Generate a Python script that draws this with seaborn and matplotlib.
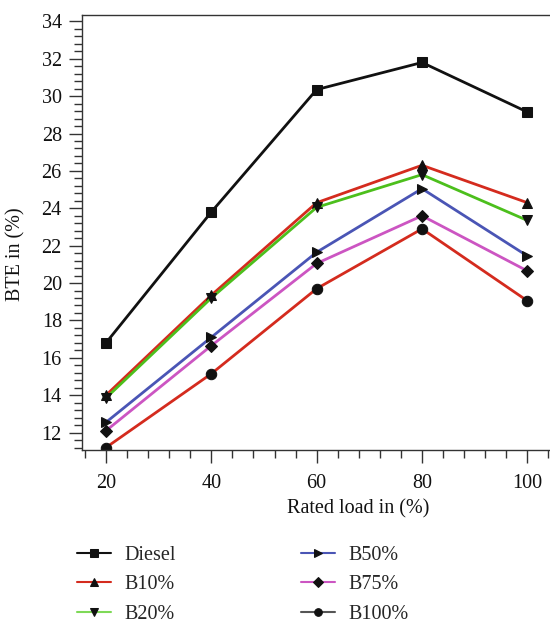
import numpy as np
import pandas as pd
import matplotlib
matplotlib.use('Agg')
import matplotlib.pyplot as plt
import seaborn as sns
from matplotlib.ticker import MultipleLocator

# Data
load = [20, 40, 60, 80, 100]
diesel = [16.8, 23.8, 30.35, 31.8, 29.15]
b10 = [14.0, 19.35, 24.3, 26.3, 24.3]
b20 = [13.85, 19.2, 24.05, 25.8, 23.35]
b50 = [12.55, 17.1, 21.65, 25.05, 21.45]
b75 = [12.1, 16.65, 21.05, 23.6, 20.65]
b100 = [11.2, 15.15, 19.7, 22.9, 19.05]

names = ['Diesel', 'B10%', 'B20%', 'B50%', 'B75%', 'B100%']
series = [diesel, b10, b20, b50, b75, b100]
colors = ['#111111', '#d42b1e', '#4cbf1c', '#4a55b5', '#cc55c2', '#d42b1e']
markers = ['s', '^', 'v', '>', 'D', 'o']
msizes = [6.5, 7.5, 7.5, 7.5, 6.5, 7.5]

sns.set_theme(style='ticks')
plt.rcParams['font.family'] = ['Liberation Serif', 'DejaVu Serif']
fs = 14.5

fig = plt.figure(figsize=(5.5, 6.25), dpi=100)
ax = fig.add_axes([82/550, 1-450/625, 1-82/550, (450-15)/625])

for name, vals, c, m, ms in zip(names, series, colors, markers, msizes):
    df = pd.DataFrame({'load': load, 'bte': vals})
    sns.lineplot(data=df, x='load', y='bte', ax=ax, color=c, marker=m,
                 markersize=ms, markerfacecolor='#111111', markeredgecolor='#111111',
                 linewidth=2.0, label=name, legend=False)

ax.set_xlim(15.45, 104.3)
ax.set_ylim(11.07, 34.34)
ax.xaxis.set_major_locator(MultipleLocator(20))
ax.xaxis.set_minor_locator(MultipleLocator(4))
ax.yaxis.set_major_locator(MultipleLocator(2))
ax.yaxis.set_minor_locator(MultipleLocator(0.4))
ax.tick_params(axis='both', which='major', length=9.5, width=1, color='#333333',
               labelsize=fs, labelcolor='#111111')
ax.tick_params(axis='x', which='major', pad=8)
ax.tick_params(axis='y', which='major', pad=5)
ax.tick_params(axis='both', which='minor', length=6, width=1, color='#333333')
ax.spines['right'].set_visible(False)
for s in ['left', 'bottom', 'top']:
    ax.spines[s].set_color('#333333')
    ax.spines[s].set_linewidth(1.0)
ax.set_xlabel('Rated load in (%)', fontsize=fs, color='#111111')
ax.set_ylabel('BTE in (%)', fontsize=fs, color='#111111')
ax.xaxis.set_label_coords(0.59, -0.113)
ax.yaxis.set_label_coords(-0.12, 0.45)

handles, labels = ax.get_legend_handles_labels()
leg = fig.legend(handles, labels, ncol=2, loc='upper left',
                 bbox_to_anchor=(59/550, 1-528/625), frameon=False,
                 fontsize=fs, handlelength=1.7, handletextpad=0.65,
                 columnspacing=6.2, labelspacing=0.5)
for h in leg.legend_handles:
    h.set_linewidth(1.5)
    h.set_markersize(5.5)
    h.set_markerfacecolor('#111111')
    h.set_markeredgecolor('#111111')
leg.legend_handles[2].set_color('#7ed957')
leg.legend_handles[5].set_color('#555555')

fig.savefig('out.png', dpi=100)
